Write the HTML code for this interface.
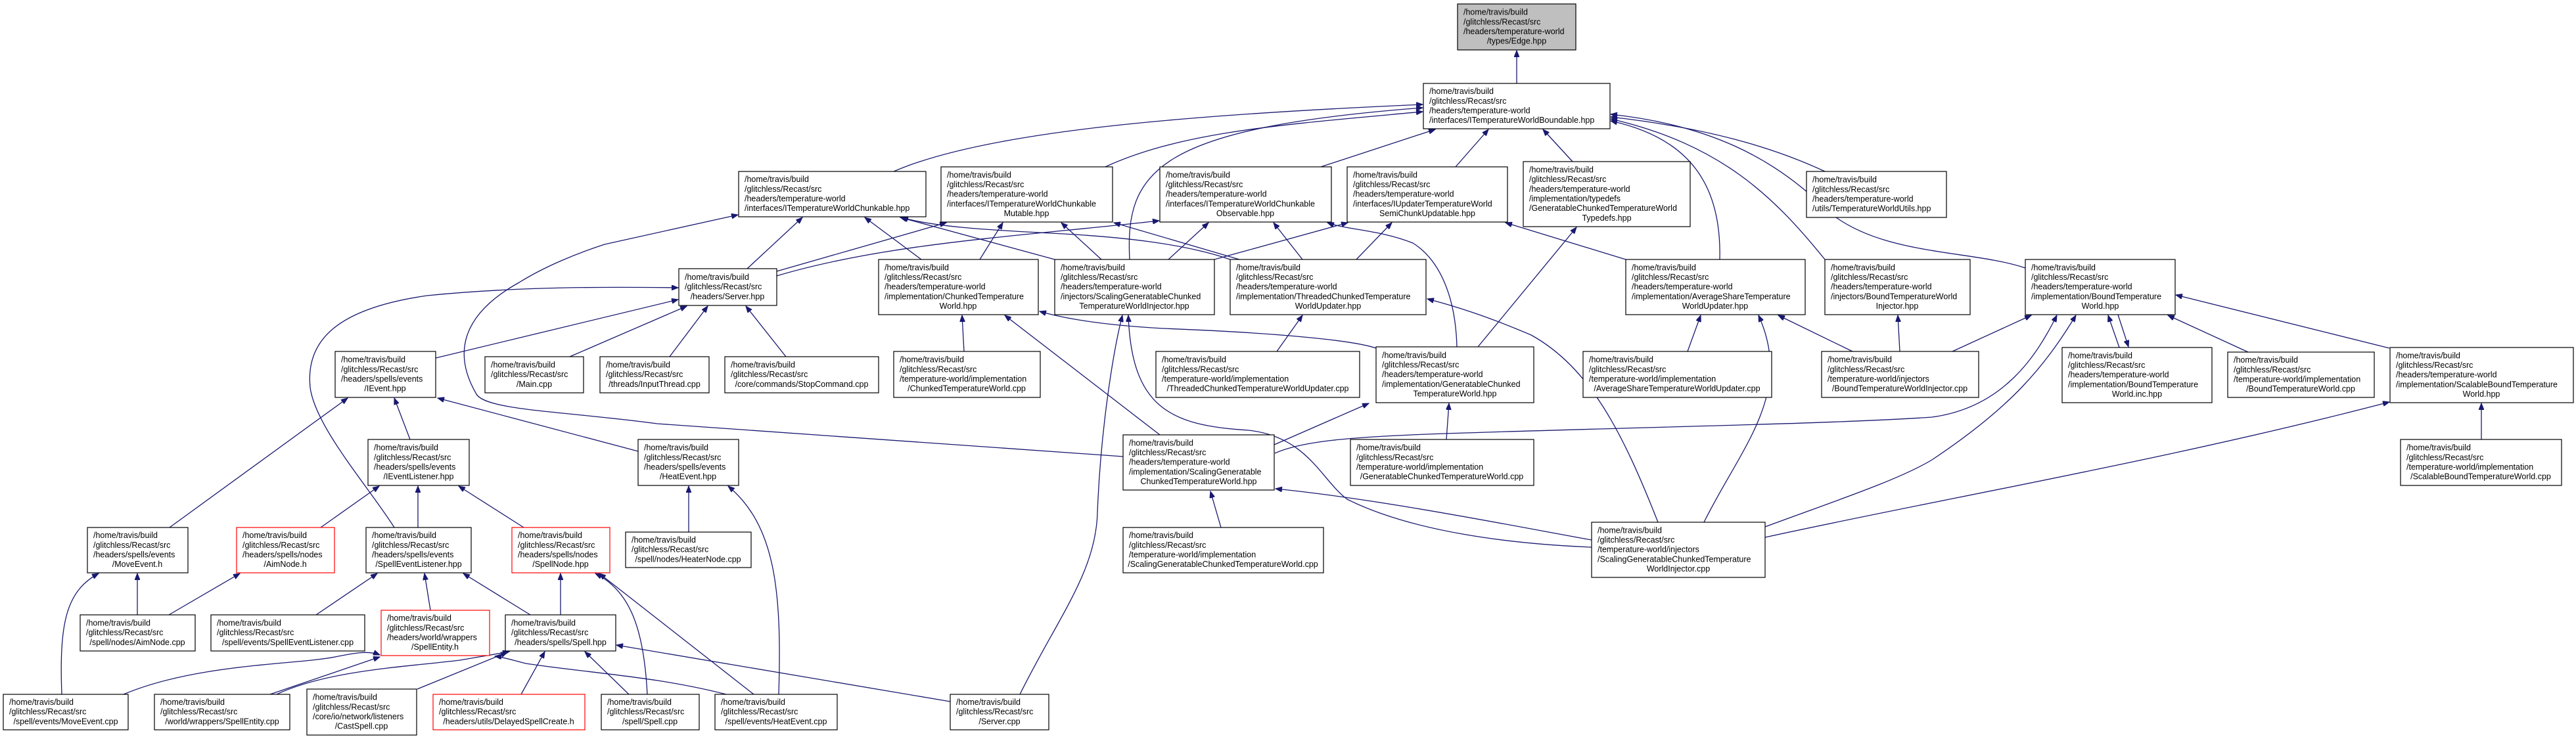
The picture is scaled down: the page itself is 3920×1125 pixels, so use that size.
<!DOCTYPE html>
<html><head><meta charset="utf-8"><style>
html,body{margin:0;padding:0;background:#fff;}
svg{display:block;}
text{font-family:"Liberation Sans",Arial,sans-serif;font-size:12.5px;fill:#000;}
.e{fill:none;stroke:#191970;stroke-width:1.3;marker-end:url(#a);}
.n{fill:#fff;stroke:#000;stroke-width:1.2;}
.r{fill:#fff;stroke:#ff0000;stroke-width:1.2;}
.g{fill:#bfbfbf;stroke:#000;stroke-width:1.2;}
</style></head><body>
<svg width="3920" height="1125" viewBox="0 0 3920 1125" xmlns="http://www.w3.org/2000/svg">
<defs><marker id="a" markerUnits="userSpaceOnUse" markerWidth="11" markerHeight="8" refX="10" refY="4" orient="auto"><path d="M0,0 L10,4 L0,8 z" fill="#191970" stroke="#191970"/></marker></defs>
<g>
<path class="e" d="M2308,127 L2308,77"/>
<path class="e" d="M1360,261 C1500,200 1800,175 2165,159"/>
<path class="e" d="M1682,254 C1800,200 1950,190 2165,170"/>
<path class="e" d="M1719,395 C1712,260 1760,195 2165,164"/>
<path class="e" d="M2010,254 L2184,197"/>
<path class="e" d="M2215,254 L2265,197"/>
<path class="e" d="M2393,246 L2348,197"/>
<path class="e" d="M2777,261 C2700,225 2600,195 2451,178"/>
<path class="e" d="M2617,395 C2620,280 2570,210 2451,184"/>
<path class="e" d="M2777,395 C2700,300 2620,220 2451,181"/>
<path class="e" d="M3082,408 C3000,380 2860,390 2780,320 C2700,240 2600,190 2451,174"/>
<path class="e" d="M1709,695 L1000,645 C860,626 740,625 725,600 C690,540 700,480 790,430 C830,405 880,385 920,372 L1123,327"/>
<path class="e" d="M600,803 C560,740 480,650 472,590 C465,520 510,470 650,450 C800,435 950,437 1032,438"/>
<path class="e" d="M663,545 L1032,456"/>
<path class="e" d="M867,543 L1045,466"/>
<path class="e" d="M1019,543 L1077,466"/>
<path class="e" d="M1196,543 L1135,466"/>
<path class="e" d="M1137,409 L1221,331"/>
<path class="e" d="M1182,413 L1440,339"/>
<path class="e" d="M1182,420 C1350,370 1550,360 1764,336"/>
<path class="e" d="M1402,395 L1316,331"/>
<path class="e" d="M1605,395 L1370,331"/>
<path class="e" d="M1872,395 C1800,370 1700,360 1600,355 C1500,350 1420,345 1372,331"/>
<path class="e" d="M1491,395 L1526,339"/>
<path class="e" d="M1676,395 L1615,339"/>
<path class="e" d="M1886,395 L1695,339"/>
<path class="e" d="M1778,395 L1839,339"/>
<path class="e" d="M1982,395 L1938,339"/>
<path class="e" d="M1848,395 L2051,339"/>
<path class="e" d="M2064,395 L2118,339"/>
<path class="e" d="M2474,395 L2291,339"/>
<path class="e" d="M2217,528 C2215,450 2190,395 2150,370 C2100,350 2050,350 2020,339"/>
<path class="e" d="M2249,528 L2399,346"/>
<path class="e" d="M1467,535 L1464,480"/>
<path class="e" d="M1765,662 L1529,480"/>
<path class="e" d="M2094,530 C2050,515 1900,505 1770,500 C1680,495 1620,485 1582,474"/>
<path class="e" d="M1552,1057 C1610,940 1668,870 1670,780 C1675,650 1695,530 1708,480"/>
<path class="e" d="M2422,833 C2300,828 2150,810 2050,760 C2010,730 1990,665 1900,655 C1780,648 1722,620 1717,480"/>
<path class="e" d="M1943,535 L1982,480"/>
<path class="e" d="M2523,795 C2470,660 2420,560 2330,510 C2260,480 2210,465 2172,455"/>
<path class="e" d="M2201,669 L2205,614"/>
<path class="e" d="M1939,677 L2083,614"/>
<path class="e" d="M2568,535 L2588,480"/>
<path class="e" d="M2593,795 C2650,680 2730,600 2676,480"/>
<path class="e" d="M2819,535 L2706,480"/>
<path class="e" d="M2891,535 L2888,480"/>
<path class="e" d="M2971,535 L3091,480"/>
<path class="e" d="M1940,690 C1980,672 2050,665 2200,660 C2500,650 2800,645 2940,635 C3050,620 3100,540 3130,480"/>
<path class="e" d="M2686,802 C2800,760 2890,730 2940,700 C3060,620 3110,560 3159,480"/>
<path class="e" d="M2686,818 C2950,760 3300,700 3636,612"/>
<path class="e" d="M3225,529 L3208,480"/>
<path class="e" d="M3223,479 L3239,528"/>
<path class="e" d="M3421,536 L3299,480"/>
<path class="e" d="M3636,530 L3311,449"/>
<path class="e" d="M3776,669 L3776,614"/>
<path class="e" d="M258,803 L529,606"/>
<path class="e" d="M624,669 L600,606"/>
<path class="e" d="M971,687 L666,606"/>
<path class="e" d="M488,803 L577,740"/>
<path class="e" d="M636,803 L636,740"/>
<path class="e" d="M797,803 L698,740"/>
<path class="e" d="M1048,810 L1048,740"/>
<path class="e" d="M1185,1057 C1190,900 1180,800 1108,740"/>
<path class="e" d="M94,1057 C90,950 100,900 150,873"/>
<path class="e" d="M209,936 L209,873"/>
<path class="e" d="M257,936 L365,873"/>
<path class="e" d="M481,936 L574,873"/>
<path class="e" d="M655,929 L646,873"/>
<path class="e" d="M807,936 L705,873"/>
<path class="e" d="M853,936 L853,873"/>
<path class="e" d="M985,1057 C980,960 960,900 906,873"/>
<path class="e" d="M1147,1057 L912,873"/>
<path class="e" d="M188,1057 C300,1010 450,1012 510,1000 C540,994 560,990 578,997"/>
<path class="e" d="M411,1057 L578,1000"/>
<path class="e" d="M1105,1057 C1000,1030 900,1025 800,1010 C780,1005 765,1000 753,999"/>
<path class="e" d="M1446,1068 L938,982"/>
<path class="e" d="M421,1057 C500,1020 620,1015 700,1005 C740,998 760,995 775,992"/>
<path class="e" d="M635,1049 L772,993"/>
<path class="e" d="M793,1057 L829,992"/>
<path class="e" d="M957,1057 L890,992"/>
<path class="e" d="M1858,803 L1842,748"/>
<path class="e" d="M2422,822 C2300,800 2100,760 1941,744"/>
</g>

<!-- nodes -->
<rect class="g" x="2218" y="6" width="180" height="70"/>
<text x="2227" y="22.6"><tspan x="2227">/home/travis/build</tspan><tspan x="2227" dy="14.7">/glitchless/Recast/src</tspan><tspan x="2227" dy="14.7">/headers/temperature-world</tspan><tspan x="2308" dy="14.7" text-anchor="middle">/types/Edge.hpp</tspan></text>

<rect class="n" x="2166" y="127" width="284" height="69"/>
<text y="143.1"><tspan x="2175">/home/travis/build</tspan><tspan x="2175" dy="14.7">/glitchless/Recast/src</tspan><tspan x="2175" dy="14.7">/headers/temperature-world</tspan><tspan x="2175" dy="14.7">/interfaces/ITemperatureWorldBoundable.hpp</tspan></text>

<rect class="n" x="1124" y="261" width="285" height="69"/>
<text y="277.1"><tspan x="1133">/home/travis/build</tspan><tspan x="1133" dy="14.7">/glitchless/Recast/src</tspan><tspan x="1133" dy="14.7">/headers/temperature-world</tspan><tspan x="1133" dy="14.7">/interfaces/ITemperatureWorldChunkable.hpp</tspan></text>

<rect class="n" x="1432" y="254" width="261" height="84"/>
<text y="270.3"><tspan x="1441">/home/travis/build</tspan><tspan x="1441" dy="14.7">/glitchless/Recast/src</tspan><tspan x="1441" dy="14.7">/headers/temperature-world</tspan><tspan x="1441" dy="14.7">/interfaces/ITemperatureWorldChunkable</tspan><tspan x="1562" dy="14.7" text-anchor="middle">Mutable.hpp</tspan></text>

<rect class="n" x="1765" y="254" width="261" height="84"/>
<text y="270.3"><tspan x="1774">/home/travis/build</tspan><tspan x="1774" dy="14.7">/glitchless/Recast/src</tspan><tspan x="1774" dy="14.7">/headers/temperature-world</tspan><tspan x="1774" dy="14.7">/interfaces/ITemperatureWorldChunkable</tspan><tspan x="1895" dy="14.7" text-anchor="middle">Observable.hpp</tspan></text>

<rect class="n" x="2050" y="254" width="244" height="84"/>
<text y="270.3"><tspan x="2059">/home/travis/build</tspan><tspan x="2059" dy="14.7">/glitchless/Recast/src</tspan><tspan x="2059" dy="14.7">/headers/temperature-world</tspan><tspan x="2059" dy="14.7">/interfaces/IUpdaterTemperatureWorld</tspan><tspan x="2172" dy="14.7" text-anchor="middle">SemiChunkUpdatable.hpp</tspan></text>

<rect class="n" x="2318" y="246" width="254" height="99"/>
<text y="262.4"><tspan x="2327">/home/travis/build</tspan><tspan x="2327" dy="14.7">/glitchless/Recast/src</tspan><tspan x="2327" dy="14.7">/headers/temperature-world</tspan><tspan x="2327" dy="14.7">/implementation/typedefs</tspan><tspan x="2327" dy="14.7">/GeneratableChunkedTemperatureWorld</tspan><tspan x="2445" dy="14.7" text-anchor="middle">Typedefs.hpp</tspan></text>

<rect class="n" x="2749" y="261" width="213" height="70"/>
<text y="277.6"><tspan x="2758">/home/travis/build</tspan><tspan x="2758" dy="14.7">/glitchless/Recast/src</tspan><tspan x="2758" dy="14.7">/headers/temperature-world</tspan><tspan x="2758" dy="14.7">/utils/TemperatureWorldUtils.hpp</tspan></text>

<rect class="n" x="1033" y="409" width="149" height="56"/>
<text y="426"><tspan x="1042">/home/travis/build</tspan><tspan x="1042" dy="14.7">/glitchless/Recast/src</tspan><tspan x="1107" dy="14.7" text-anchor="middle">/headers/Server.hpp</tspan></text>

<rect class="n" x="1337" y="395" width="243" height="84"/>
<text y="411.3"><tspan x="1346">/home/travis/build</tspan><tspan x="1346" dy="14.7">/glitchless/Recast/src</tspan><tspan x="1346" dy="14.7">/headers/temperature-world</tspan><tspan x="1346" dy="14.7">/implementation/ChunkedTemperature</tspan><tspan x="1458" dy="14.7" text-anchor="middle">World.hpp</tspan></text>

<rect class="n" x="1605" y="395" width="243" height="84"/>
<text y="411.3"><tspan x="1614">/home/travis/build</tspan><tspan x="1614" dy="14.7">/glitchless/Recast/src</tspan><tspan x="1614" dy="14.7">/headers/temperature-world</tspan><tspan x="1614" dy="14.7">/injectors/ScalingGeneratableChunked</tspan><tspan x="1726" dy="14.7" text-anchor="middle">TemperatureWorldInjector.hpp</tspan></text>

<rect class="n" x="1872" y="395" width="298" height="84"/>
<text y="411.3"><tspan x="1881">/home/travis/build</tspan><tspan x="1881" dy="14.7">/glitchless/Recast/src</tspan><tspan x="1881" dy="14.7">/headers/temperature-world</tspan><tspan x="1881" dy="14.7">/implementation/ThreadedChunkedTemperature</tspan><tspan x="2021" dy="14.7" text-anchor="middle">WorldUpdater.hpp</tspan></text>

<rect class="n" x="2474" y="395" width="273" height="84"/>
<text y="411.3"><tspan x="2483">/home/travis/build</tspan><tspan x="2483" dy="14.7">/glitchless/Recast/src</tspan><tspan x="2483" dy="14.7">/headers/temperature-world</tspan><tspan x="2483" dy="14.7">/implementation/AverageShareTemperature</tspan><tspan x="2610" dy="14.7" text-anchor="middle">WorldUpdater.hpp</tspan></text>

<rect class="n" x="2777" y="395" width="221" height="84"/>
<text y="411.3"><tspan x="2786">/home/travis/build</tspan><tspan x="2786" dy="14.7">/glitchless/Recast/src</tspan><tspan x="2786" dy="14.7">/headers/temperature-world</tspan><tspan x="2786" dy="14.7">/injectors/BoundTemperatureWorld</tspan><tspan x="2887" dy="14.7" text-anchor="middle">Injector.hpp</tspan></text>

<rect class="n" x="3082" y="395" width="228" height="84"/>
<text y="411.3"><tspan x="3091">/home/travis/build</tspan><tspan x="3091" dy="14.7">/glitchless/Recast/src</tspan><tspan x="3091" dy="14.7">/headers/temperature-world</tspan><tspan x="3091" dy="14.7">/implementation/BoundTemperature</tspan><tspan x="3196" dy="14.7" text-anchor="middle">World.hpp</tspan></text>

<rect class="n" x="510" y="535" width="153" height="70"/>
<text y="551.6"><tspan x="519">/home/travis/build</tspan><tspan x="519" dy="14.7">/glitchless/Recast/src</tspan><tspan x="519" dy="14.7">/headers/spells/events</tspan><tspan x="586" dy="14.7" text-anchor="middle">/IEvent.hpp</tspan></text>

<rect class="n" x="738" y="543" width="150" height="55"/>
<text y="559.5"><tspan x="747">/home/travis/build</tspan><tspan x="747" dy="14.7">/glitchless/Recast/src</tspan><tspan x="813" dy="14.7" text-anchor="middle">/Main.cpp</tspan></text>

<rect class="n" x="913" y="543" width="166" height="55"/>
<text y="559.5"><tspan x="922">/home/travis/build</tspan><tspan x="922" dy="14.7">/glitchless/Recast/src</tspan><tspan x="996" dy="14.7" text-anchor="middle">/threads/InputThread.cpp</tspan></text>

<rect class="n" x="1103" y="543" width="234" height="55"/>
<text y="559.5"><tspan x="1112">/home/travis/build</tspan><tspan x="1112" dy="14.7">/glitchless/Recast/src</tspan><tspan x="1220" dy="14.7" text-anchor="middle">/core/commands/StopCommand.cpp</tspan></text>

<rect class="n" x="1360" y="535" width="223" height="70"/>
<text y="551.6"><tspan x="1369">/home/travis/build</tspan><tspan x="1369" dy="14.7">/glitchless/Recast/src</tspan><tspan x="1369" dy="14.7">/temperature-world/implementation</tspan><tspan x="1471" dy="14.7" text-anchor="middle">/ChunkedTemperatureWorld.cpp</tspan></text>

<rect class="n" x="1759" y="535" width="310" height="70"/>
<text y="551.6"><tspan x="1768">/home/travis/build</tspan><tspan x="1768" dy="14.7">/glitchless/Recast/src</tspan><tspan x="1768" dy="14.7">/temperature-world/implementation</tspan><tspan x="1914" dy="14.7" text-anchor="middle">/ThreadedChunkedTemperatureWorldUpdater.cpp</tspan></text>

<rect class="n" x="2094" y="528" width="240" height="85"/>
<text y="544.8"><tspan x="2103">/home/travis/build</tspan><tspan x="2103" dy="14.7">/glitchless/Recast/src</tspan><tspan x="2103" dy="14.7">/headers/temperature-world</tspan><tspan x="2103" dy="14.7">/implementation/GeneratableChunked</tspan><tspan x="2214" dy="14.7" text-anchor="middle">TemperatureWorld.hpp</tspan></text>

<rect class="n" x="2409" y="535" width="287" height="70"/>
<text y="551.6"><tspan x="2418">/home/travis/build</tspan><tspan x="2418" dy="14.7">/glitchless/Recast/src</tspan><tspan x="2418" dy="14.7">/temperature-world/implementation</tspan><tspan x="2552" dy="14.7" text-anchor="middle">/AverageShareTemperatureWorldUpdater.cpp</tspan></text>

<rect class="n" x="2772" y="535" width="239" height="70"/>
<text y="551.6"><tspan x="2781">/home/travis/build</tspan><tspan x="2781" dy="14.7">/glitchless/Recast/src</tspan><tspan x="2781" dy="14.7">/temperature-world/injectors</tspan><tspan x="2891" dy="14.7" text-anchor="middle">/BoundTemperatureWorldInjector.cpp</tspan></text>

<rect class="n" x="3138" y="529" width="228" height="84"/>
<text y="545.3"><tspan x="3147">/home/travis/build</tspan><tspan x="3147" dy="14.7">/glitchless/Recast/src</tspan><tspan x="3147" dy="14.7">/headers/temperature-world</tspan><tspan x="3147" dy="14.7">/implementation/BoundTemperature</tspan><tspan x="3252" dy="14.7" text-anchor="middle">World.inc.hpp</tspan></text>

<rect class="n" x="3390" y="536" width="223" height="69"/>
<text y="552.1"><tspan x="3399">/home/travis/build</tspan><tspan x="3399" dy="14.7">/glitchless/Recast/src</tspan><tspan x="3399" dy="14.7">/temperature-world/implementation</tspan><tspan x="3501" dy="14.7" text-anchor="middle">/BoundTemperatureWorld.cpp</tspan></text>

<rect class="n" x="3637" y="529" width="279" height="84"/>
<text y="545.3"><tspan x="3646">/home/travis/build</tspan><tspan x="3646" dy="14.7">/glitchless/Recast/src</tspan><tspan x="3646" dy="14.7">/headers/temperature-world</tspan><tspan x="3646" dy="14.7">/implementation/ScalableBoundTemperature</tspan><tspan x="3776" dy="14.7" text-anchor="middle">World.hpp</tspan></text>

<rect class="n" x="3653" y="669" width="245" height="70"/>
<text y="685.6"><tspan x="3662">/home/travis/build</tspan><tspan x="3662" dy="14.7">/glitchless/Recast/src</tspan><tspan x="3662" dy="14.7">/temperature-world/implementation</tspan><tspan x="3775" dy="14.7" text-anchor="middle">/ScalableBoundTemperatureWorld.cpp</tspan></text>

<rect class="n" x="560" y="669" width="154" height="70"/>
<text y="685.6"><tspan x="569">/home/travis/build</tspan><tspan x="569" dy="14.7">/glitchless/Recast/src</tspan><tspan x="569" dy="14.7">/headers/spells/events</tspan><tspan x="637" dy="14.7" text-anchor="middle">/IEventListener.hpp</tspan></text>

<rect class="n" x="971" y="669" width="153" height="70"/>
<text y="685.6"><tspan x="980">/home/travis/build</tspan><tspan x="980" dy="14.7">/glitchless/Recast/src</tspan><tspan x="980" dy="14.7">/headers/spells/events</tspan><tspan x="1047" dy="14.7" text-anchor="middle">/HeatEvent.hpp</tspan></text>

<rect class="n" x="1709" y="662" width="230" height="84"/>
<text y="678.3"><tspan x="1718">/home/travis/build</tspan><tspan x="1718" dy="14.7">/glitchless/Recast/src</tspan><tspan x="1718" dy="14.7">/headers/temperature-world</tspan><tspan x="1718" dy="14.7">/implementation/ScalingGeneratable</tspan><tspan x="1824" dy="14.7" text-anchor="middle">ChunkedTemperatureWorld.hpp</tspan></text>

<rect class="n" x="2055" y="669" width="279" height="70"/>
<text y="685.6"><tspan x="2064">/home/travis/build</tspan><tspan x="2064" dy="14.7">/glitchless/Recast/src</tspan><tspan x="2064" dy="14.7">/temperature-world/implementation</tspan><tspan x="2194" dy="14.7" text-anchor="middle">/GeneratableChunkedTemperatureWorld.cpp</tspan></text>

<rect class="n" x="133" y="803" width="153" height="69"/>
<text y="819.1"><tspan x="142">/home/travis/build</tspan><tspan x="142" dy="14.7">/glitchless/Recast/src</tspan><tspan x="142" dy="14.7">/headers/spells/events</tspan><tspan x="209" dy="14.7" text-anchor="middle">/MoveEvent.h</tspan></text>

<rect class="r" x="360" y="803" width="149" height="69"/>
<text y="819.1"><tspan x="369">/home/travis/build</tspan><tspan x="369" dy="14.7">/glitchless/Recast/src</tspan><tspan x="369" dy="14.7">/headers/spells/nodes</tspan><tspan x="434" dy="14.7" text-anchor="middle">/AimNode.h</tspan></text>

<rect class="n" x="557" y="803" width="160" height="69"/>
<text y="819.1"><tspan x="566">/home/travis/build</tspan><tspan x="566" dy="14.7">/glitchless/Recast/src</tspan><tspan x="566" dy="14.7">/headers/spells/events</tspan><tspan x="637" dy="14.7" text-anchor="middle">/SpellEventListener.hpp</tspan></text>

<rect class="r" x="779" y="803" width="149" height="69"/>
<text y="819.1"><tspan x="788">/home/travis/build</tspan><tspan x="788" dy="14.7">/glitchless/Recast/src</tspan><tspan x="788" dy="14.7">/headers/spells/nodes</tspan><tspan x="853" dy="14.7" text-anchor="middle">/SpellNode.hpp</tspan></text>

<rect class="n" x="952" y="810" width="191" height="54"/>
<text y="826"><tspan x="961">/home/travis/build</tspan><tspan x="961" dy="14.7">/glitchless/Recast/src</tspan><tspan x="1047" dy="14.7" text-anchor="middle">/spell/nodes/HeaterNode.cpp</tspan></text>

<rect class="n" x="1709" y="803" width="305" height="69"/>
<text y="819.1"><tspan x="1718">/home/travis/build</tspan><tspan x="1718" dy="14.7">/glitchless/Recast/src</tspan><tspan x="1718" dy="14.7">/temperature-world/implementation</tspan><tspan x="1861" dy="14.7" text-anchor="middle">/ScalingGeneratableChunkedTemperatureWorld.cpp</tspan></text>

<rect class="n" x="2422" y="795" width="264" height="84"/>
<text y="811.3"><tspan x="2431">/home/travis/build</tspan><tspan x="2431" dy="14.7">/glitchless/Recast/src</tspan><tspan x="2431" dy="14.7">/temperature-world/injectors</tspan><tspan x="2431" dy="14.7">/ScalingGeneratableChunkedTemperature</tspan><tspan x="2554" dy="14.7" text-anchor="middle">WorldInjector.cpp</tspan></text>

<rect class="n" x="122" y="936" width="175" height="55"/>
<text y="952.5"><tspan x="131">/home/travis/build</tspan><tspan x="131" dy="14.7">/glitchless/Recast/src</tspan><tspan x="209" dy="14.7" text-anchor="middle">/spell/nodes/AimNode.cpp</tspan></text>

<rect class="n" x="321" y="936" width="234" height="55"/>
<text y="952.5"><tspan x="330">/home/travis/build</tspan><tspan x="330" dy="14.7">/glitchless/Recast/src</tspan><tspan x="438" dy="14.7" text-anchor="middle">/spell/events/SpellEventListener.cpp</tspan></text>

<rect class="r" x="580" y="929" width="165" height="69"/>
<text y="945.1"><tspan x="589">/home/travis/build</tspan><tspan x="589" dy="14.7">/glitchless/Recast/src</tspan><tspan x="589" dy="14.7">/headers/world/wrappers</tspan><tspan x="662" dy="14.7" text-anchor="middle">/SpellEntity.h</tspan></text>

<rect class="n" x="769" y="936" width="168" height="55"/>
<text y="952.5"><tspan x="778">/home/travis/build</tspan><tspan x="778" dy="14.7">/glitchless/Recast/src</tspan><tspan x="853" dy="14.7" text-anchor="middle">/headers/spells/Spell.hpp</tspan></text>

<rect class="n" x="5" y="1057" width="190" height="54"/>
<text y="1073"><tspan x="14">/home/travis/build</tspan><tspan x="14" dy="14.7">/glitchless/Recast/src</tspan><tspan x="100" dy="14.7" text-anchor="middle">/spell/events/MoveEvent.cpp</tspan></text>

<rect class="n" x="235" y="1057" width="206" height="54"/>
<text y="1073"><tspan x="244">/home/travis/build</tspan><tspan x="244" dy="14.7">/glitchless/Recast/src</tspan><tspan x="338" dy="14.7" text-anchor="middle">/world/wrappers/SpellEntity.cpp</tspan></text>

<rect class="n" x="467" y="1049" width="167" height="70"/>
<text y="1065.6"><tspan x="476">/home/travis/build</tspan><tspan x="476" dy="14.7">/glitchless/Recast/src</tspan><tspan x="476" dy="14.7">/core/io/network/listeners</tspan><tspan x="550" dy="14.7" text-anchor="middle">/CastSpell.cpp</tspan></text>

<rect class="r" x="659" y="1057" width="231" height="54"/>
<text y="1073"><tspan x="668">/home/travis/build</tspan><tspan x="668" dy="14.7">/glitchless/Recast/src</tspan><tspan x="774" dy="14.7" text-anchor="middle">/headers/utils/DelayedSpellCreate.h</tspan></text>

<rect class="n" x="915" y="1057" width="149" height="54"/>
<text y="1073"><tspan x="924">/home/travis/build</tspan><tspan x="924" dy="14.7">/glitchless/Recast/src</tspan><tspan x="989" dy="14.7" text-anchor="middle">/spell/Spell.cpp</tspan></text>

<rect class="n" x="1088" y="1057" width="186" height="54"/>
<text y="1073"><tspan x="1097">/home/travis/build</tspan><tspan x="1097" dy="14.7">/glitchless/Recast/src</tspan><tspan x="1181" dy="14.7" text-anchor="middle">/spell/events/HeatEvent.cpp</tspan></text>

<rect class="n" x="1446" y="1057" width="150" height="54"/>
<text y="1073"><tspan x="1455">/home/travis/build</tspan><tspan x="1455" dy="14.7">/glitchless/Recast/src</tspan><tspan x="1521" dy="14.7" text-anchor="middle">/Server.cpp</tspan></text>
</svg>
</body></html>
